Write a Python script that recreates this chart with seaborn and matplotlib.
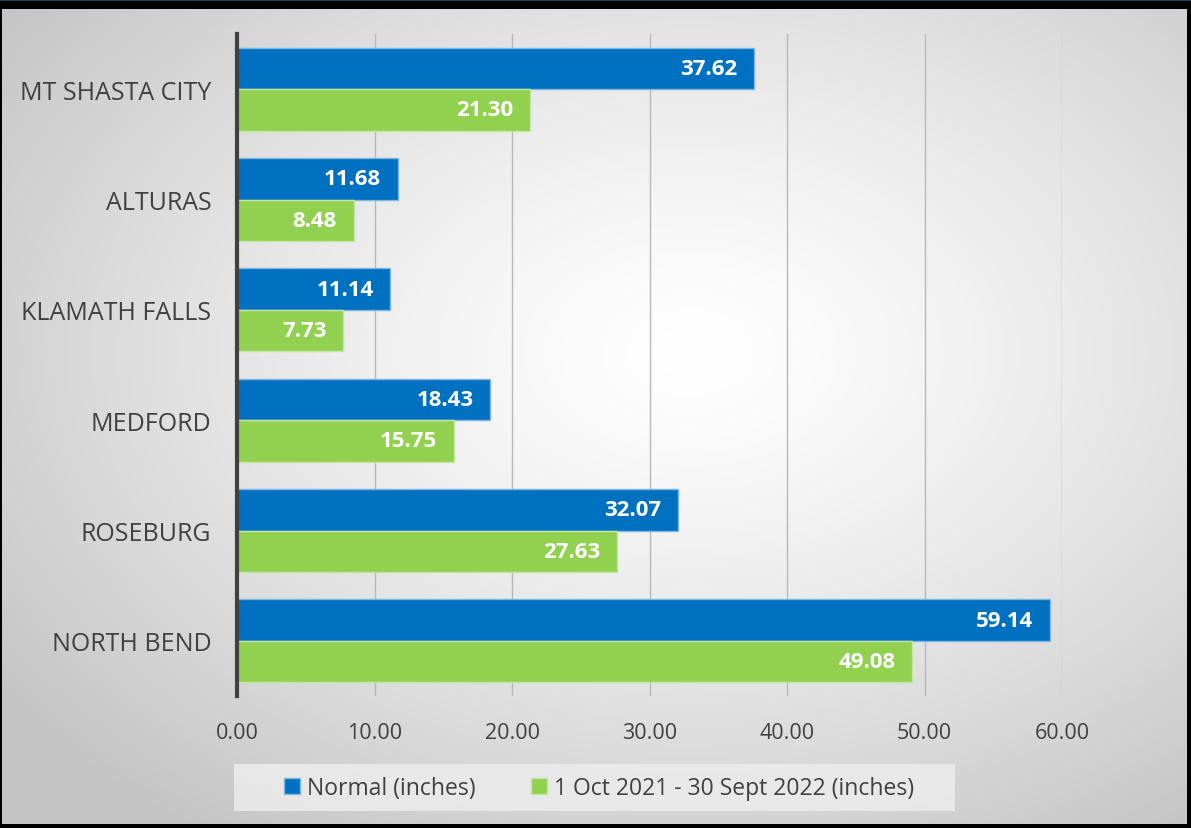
import numpy as np
import pandas as pd
import matplotlib.pyplot as plt
import seaborn as sns
from matplotlib.patches import Patch, Rectangle

# data
stations = ["MT SHASTA CITY", "ALTURAS", "KLAMATH FALLS", "MEDFORD", "ROSEBURG", "NORTH BEND"]
normal = [37.62, 11.68, 11.14, 18.43, 32.07, 59.14]
season = [21.30, 8.48, 7.73, 15.75, 27.63, 49.08]
series = ["Normal (inches)", "1 Oct 2021 - 30 Sept 2022 (inches)"]
xticks = [0, 10, 20, 30, 40, 50, 60]

df = pd.DataFrame({
    "station": stations * 2,
    "value": normal + season,
    "series": [series[0]] * len(stations) + [series[1]] * len(stations),
})

sns.set_theme(style="white")
plt.rcParams["font.family"] = ["Open Sans", "DejaVu Sans"]

W, H = 1191, 829
fig = plt.figure(figsize=(W / 100, H / 100), dpi=100)
fig.patch.set_facecolor("black")

# radial gradient background (inner frame)
bg = fig.add_axes([2 / W, 1 - 825 / H, (1187 - 2) / W, (825 - 10) / H], zorder=-5)
yy, xx = np.mgrid[0:400, 0:600]
cx, cy = 0.58 * 600, 0.42 * 400
d = np.sqrt(((xx - cx) / 600) ** 2 + ((yy - cy) / 400) ** 2) / 0.72
d = np.clip(d, 0, 1)
shade = 1.0 - 0.23 * d ** 1.3
bg.imshow(np.dstack([shade] * 3), aspect="auto", interpolation="bilinear")
bg.set_axis_off()

# thin teal line at the very top
fig.add_artist(Rectangle((0, 1 - 2 / H), 1, 2 / H, transform=fig.transFigure,
                         facecolor="#1d4a60", edgecolor="none"))

# legend box
fig.add_artist(Rectangle((234 / W, 1 - 812 / H), (955 - 234) / W, (812 - 765) / H,
                         transform=fig.transFigure, facecolor="#ececec",
                         edgecolor="none", alpha=0.85, zorder=1))

ax = fig.add_axes([237 / W, 1 - 697 / H, (1062 - 237) / W, (697 - 35) / H])
ax.set_facecolor("none")
colors = ["#0070C0", "#92D050"]
sns.barplot(data=df, x="value", y="station", hue="series", order=stations,
            hue_order=series, palette=colors, saturation=1, orient="h",
            width=0.75, ax=ax, legend=False, zorder=3)

edges = ["#7fb6e0", "#c4e6a4"]
for cont, ec in zip(ax.containers, edges):
    for bar in cont:
        bar.set_edgecolor(ec)
        bar.set_linewidth(1)
    ax.bar_label(cont, labels=[f"{v:.2f}" for v in cont.datavalues],
                 padding=-12, color="white", fontsize=16, fontweight="bold",
                 label_type="edge")
# right-align labels inside bar ends
for t in ax.texts:
    t.set_ha("right")

ax.set_xlim(0, 60)
ax.set_xticks(xticks)
ax.set_xticklabels([f"{v:.2f}" for v in xticks])
ax.grid(axis="x", color="#b8b8b8", linewidth=1, zorder=0)
ax.set_axisbelow(True)
for s in ["top", "right", "bottom"]:
    ax.spines[s].set_visible(False)
ax.spines["left"].set_color("#404040")
ax.spines["left"].set_linewidth(3)
ax.spines["left"].set_zorder(5)
ax.tick_params(axis="x", length=0, pad=19, labelsize=15.5, labelcolor="#404040")
ax.tick_params(axis="y", length=0, pad=18.5, labelsize=18, labelcolor="#404040")
ax.set_xlabel("")
ax.set_ylabel("")

handles = [Patch(facecolor=c, edgecolor=e, linewidth=1) for c, e in zip(colors, edges)]
fig.legend(handles, series, loc="center", bbox_to_anchor=(599 / W, 1 - 789 / H),
           ncol=2, frameon=False, fontsize=16.5, handlelength=0.7,
           handleheight=0.7, handletextpad=0.3, columnspacing=2.4,
           labelcolor="#404040")

fig.savefig("out.png", dpi=100, facecolor=fig.get_facecolor())
